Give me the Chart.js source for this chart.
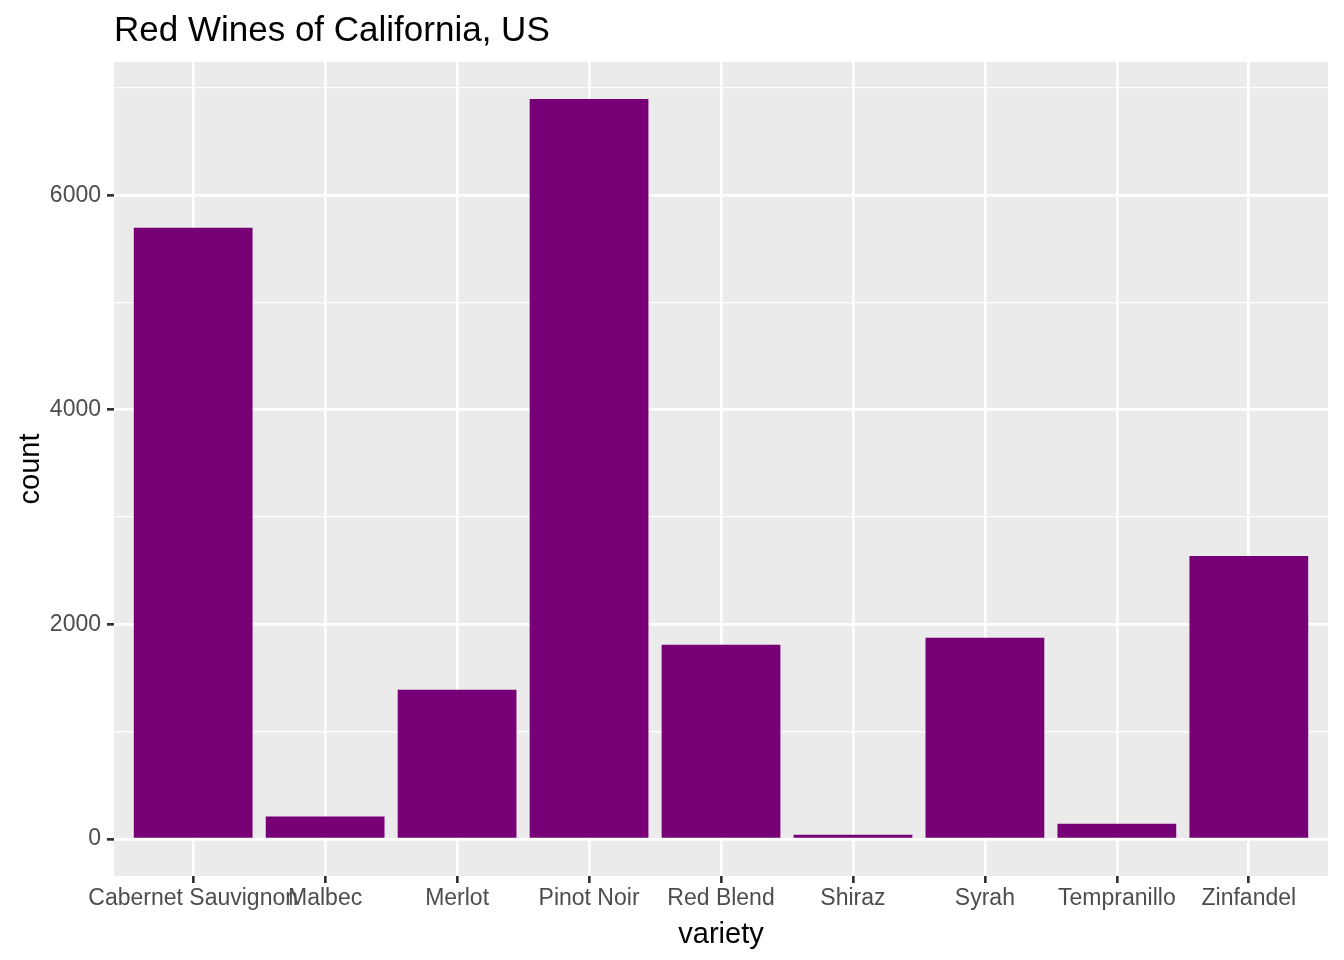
<!DOCTYPE html>
<html>
<head>
<meta charset="utf-8">
<title>Red Wines of California, US</title>
<script src="https://cdn.jsdelivr.net/npm/chart.js@4/dist/chart.umd.min.js"></script>
<style>
	html, body { margin: 0; padding: 0; background: #ffffff; }
	#wrap { width: 1344px; height: 960px; }
</style>
</head>
<body>
<div id="wrap"><canvas id="chart" width="1344" height="960"></canvas></div>
<script>
const varieties = ['Cabernet Sauvignon', 'Malbec', 'Merlot', 'Pinot Noir', 'Red Blend', 'Shiraz', 'Syrah', 'Tempranillo', 'Zinfandel'];
const counts = [5696, 210, 1391, 6897, 1810, 40, 1876, 143, 2638];
const yTickLabels = [0, 2000, 4000, 6000];
const yGridValues = [0, 1000, 2000, 3000, 4000, 5000, 6000, 7000];
const chartTitle = 'Red Wines of California, US';
const xTitle = 'variety';
const yTitle = 'count';

// ggplot style expansion: 5% on a continuous axis, 0.6 units on a discrete one
const yPad = Math.max(...counts) * 0.05;
const yMin = -yPad;
const yMax = Math.max(...counts) + yPad;

Chart.defaults.font.family = "'Liberation Sans', Arial, Helvetica, sans-serif";

const panelBackground = {
	id: 'panelBackground',
	beforeDraw: (chart) => {
		const { ctx, chartArea } = chart;
		ctx.save();
		ctx.fillStyle = '#ebebeb';
		ctx.fillRect(chartArea.left, chartArea.top, chartArea.right - chartArea.left, chartArea.bottom - chartArea.top);
		ctx.restore();
	}
};

const isMajor = (v) => yTickLabels.includes(v);

const canvas = document.getElementById('chart');
const myChart = new Chart(canvas.getContext('2d'), {
	type: 'bar',
	data: {
		datasets: [{
			label: yTitle,
			data: counts.map((c, i) => ({ x: i, y: c })),
			backgroundColor: '#770077',
			borderWidth: 0,
			barPercentage: 0.9,
			categoryPercentage: 1.0
		}]
	},
	plugins: [panelBackground],
	options: {
		responsive: false,
		animation: false,
		layout: {
			padding: { top: 0, right: 16, bottom: 0, left: 0 }
		},
		plugins: {
			legend: { display: false },
			tooltip: { enabled: false },
			title: {
				display: true,
				text: chartTitle,
				align: 'start',
				fullSize: false,
				color: '#000000',
				font: { size: 35, weight: 'normal' },
				padding: { top: 10, bottom: 10 }
			}
		},
		scales: {
			x: {
				type: 'linear',
				min: -0.6,
				max: varieties.length - 1 + 0.6,
				offset: false,
				afterBuildTicks: (axis) => {
					axis.ticks = varieties.map((v, i) => ({ value: i }));
				},
				afterFit: (axis) => { axis.height = 84; },
				ticks: {
					autoSkip: false,
					maxRotation: 0,
					padding: 2,
					color: '#4d4d4d',
					font: { size: 23 },
					callback: (v) => varieties[v]
				},
				grid: {
					offset: false,
					color: '#ffffff',
					lineWidth: 2.7,
					tickColor: '#333333',
					tickLength: 7,
					tickWidth: 2.7
				},
				border: { display: false },
				title: {
					display: true,
					text: xTitle,
					color: '#000000',
					font: { size: 29 },
					padding: { top: 0, bottom: 8 }
				}
			},
			y: {
				min: yMin,
				max: yMax,
				afterBuildTicks: (axis) => {
					axis.ticks = yGridValues.map((v) => ({ value: v }));
				},
				afterFit: (axis) => { axis.width = 114; },
				ticks: {
					autoSkip: false,
					padding: 6,
					color: '#4d4d4d',
					font: { size: 23 },
					callback: (v) => isMajor(v) ? v : ''
				},
				grid: {
					color: '#ffffff',
					lineWidth: (ctx) => ctx.tick && isMajor(ctx.tick.value) ? 2.7 : 1.35,
					tickColor: (ctx) => ctx.tick && isMajor(ctx.tick.value) ? '#333333' : 'rgba(0,0,0,0)',
					tickLength: 7,
					tickWidth: 2.7
				},
				border: { display: false },
				title: {
					display: true,
					text: yTitle,
					color: '#000000',
					font: { size: 29 },
					padding: { top: 14, bottom: 0 }
				}
			}
		}
	}
});
</script>
</body>
</html>
